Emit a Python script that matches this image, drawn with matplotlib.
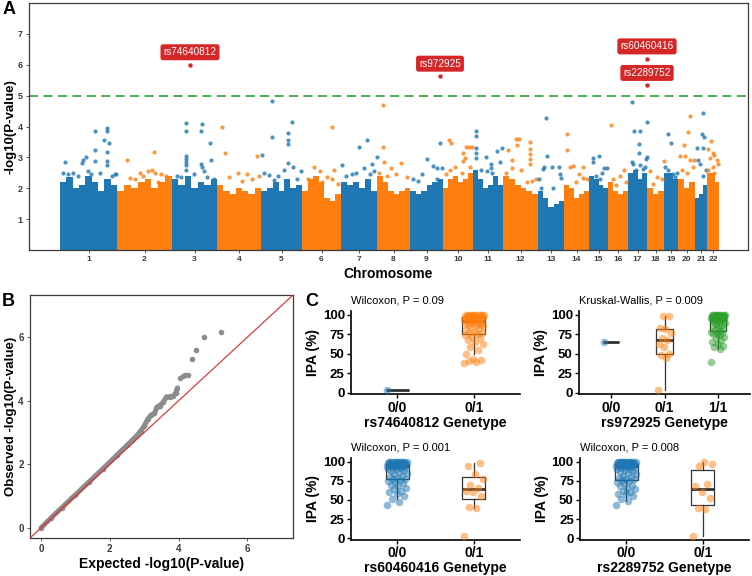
import numpy as np
import matplotlib
matplotlib.use("Agg")
import matplotlib.pyplot as plt

plt.rcParams['font.family'] = ['Liberation Sans', 'DejaVu Sans']

BLUE = '#1f77b4'
ORANGE = '#ff7f0e'
GREEN = '#2ca02c'
RED = '#d62728'
FRAME = '#3a3a3a'

# ---------------- panel A : manhattan ----------------
chrom_names = [str(i) for i in range(1, 23)]
# relative size of each chromosome on the x axis (number of SNPs, arbitrary units)
chrom_size = [57, 55, 45, 44, 41, 39, 36, 33, 33, 30, 30, 35, 26, 25, 19, 20, 19, 17, 14, 17, 12, 12]
# upper edge of the dense SNP cloud, read along each chromosome
band_top = [
    [2.2, 2.35, 2.0, 2.1, 2.4, 2.2, 1.9, 2.3, 2.1],
    [1.9, 2.1, 2.0, 2.2, 2.3, 2.0, 2.2, 2.4],
    [2.3, 2.1, 2.4, 2.0, 2.2, 2.1, 2.3],
    [2.1, 1.9, 1.8, 2.0, 1.9, 1.8, 2.0],
    [1.9, 2.0, 2.2, 1.9, 2.3, 2.0, 2.1],
    [1.9, 2.3, 2.4, 2.2, 1.7, 1.6, 1.8],
    [2.2, 2.1, 2.2, 2.0, 2.3, 1.9],
    [2.4, 2.2, 1.9, 1.8, 1.9, 2.0],
    [1.9, 1.8, 1.9, 2.1, 2.2, 2.3],
    [2.0, 2.3, 2.4, 2.2, 2.3, 2.5],
    [2.6, 2.3, 2.0, 2.1, 2.4, 2.1],
    [2.4, 2.3, 2.1, 2.0, 1.9, 1.8],
    [1.9, 1.7, 1.4, 1.5, 1.6],
    [2.1, 2.0, 1.7, 1.8, 1.9],
    [2.4, 2.3, 2.1, 2.0],
    [2.2, 1.9, 1.8, 1.9],
    [2.5, 2.6, 2.3, 2.5],
    [2.0, 1.8, 1.9],
    [2.5, 2.5, 2.3],
    [2.3, 2.0, 2.2],
    [1.7, 1.8, 2.1],
    [2.5, 2.5, 2.2],
]
# SNPs standing out above the cloud: position inside chromosome and -log10(p)
top_pos = [
    [5, 21.7, 23.3, 26, 35, 35, 35, 44, 47.3, 47.3, 49, 47.3, 47.3, 47.3, 56, 3, 8, 13, 18, 28, 31, 40, 52, 55],
    [9.7, 37, 13, 23, 26, 31, 35, 37.5, 41, 49, 52, 44, 18],
    [13.7, 13.7, 29.7, 28.7, 38, 13.7, 13.7, 13.7, 13.7, 13.7, 28.7, 29.7, 38.7, 22, 35, 5, 9, 32, 42],
    [4.7, 8, 39.7, 21, 30, 35, 12, 25, 42],
    [11.3, 11.3, 31.3, 27.3, 27.3, 27.3, 1.3, 27.3, 32, 40, 23, 8, 13, 17, 36, 3],
    [30.3, 12, 18, 32, 30, 6, 20, 36, 25],
    [1.3, 18, 25.7, 23, 30.7, 35.5, 11, 29, 5, 15, 33],
    [6.3, 5.7, 6.7, 24, 14, 29.7, 2, 10, 19],
    [17.3, 30, 23.3, 26.7, 12, 8, 31.7, 26.7, 3],
    [6, 7.7, 22.7, 26, 29.3, 22, 20.3, 20, 12, 7, 19, 27, 3],
    [2.7, 2.7, 2.7, 2.7, 2.7, 12.7, 23.7, 28.7, 27, 18, 18, 18.7, 8, 14],
    [4.7, 12.7, 16, 13.7, 27, 27, 27, 27, 27, 9.3, 9, 18, 23.7, 29, 3, 33],
    [7.7, 8.7, 5, 6, 13.7, 21, 22, 23, 3, 15, 1],
    [2.7, 3.3, 6, 9, 19.3, 15, 19, 12, 23],
    [4.3, 10, 3.7, 12.7, 15, 18, 11, 7],
    [2.7, 8, 15.7, 12, 5, 18],
    [4.3, 6, 12, 11, 11.3, 18.7, 18.7, 18, 3.7, 5.3, 12, 15, 8, 17],
    [3, 14.7, 6.3, 10, 16.5],
    [3.7, 7, 3.7, 9.3, 11, 1, 13],
    [12, 10.3, 6, 2, 7, 12, 14.7, 16.3, 4, 9],
    [8.3, 7.3, 9, 2.3, 8.3, 3.3, 5, 8.3, 11],
    [3.7, 1.3, 6.3, 7.3, 3, 9.7, 5.7, 7.3, 11, 1],
]
top_logp = [
    [2.85, 2.82, 2.93, 3.0, 3.86, 3.25, 2.87, 3.57, 3.95, 3.84, 3.46, 3.17, 2.88, 2.75, 2.45, 2.5, 2.45, 2.5, 2.4, 2.55, 2.45, 2.5, 2.4, 2.45],
    [2.93, 3.16, 2.33, 2.5, 2.4, 2.55, 2.6, 2.5, 2.2, 2.4, 2.25, 2.45, 2.3],
    [4.11, 3.84, 4.09, 3.86, 3.46, 3.05, 2.95, 2.85, 2.75, 2.6, 2.77, 2.68, 2.93, 2.47, 2.35, 2.4, 2.35, 2.55, 2.3],
    [4.0, 3.14, 3.05, 2.5, 2.45, 2.3, 2.35, 2.25, 2.4],
    [4.82, 3.65, 4.14, 3.8, 3.57, 3.43, 3.09, 2.82, 2.69, 2.55, 2.6, 2.42, 2.28, 2.4, 2.3, 2.5],
    [4.0, 2.69, 2.55, 2.6, 2.3, 2.3, 2.2, 2.15, 2.35],
    [2.76, 3.32, 3.56, 2.65, 2.8, 3.0, 2.45, 2.45, 2.4, 2.5, 2.55],
    [4.7, 3.33, 2.85, 2.83, 2.64, 2.37, 2.5, 2.4, 2.45],
    [2.95, 3.47, 2.73, 2.65, 2.45, 2.25, 2.64, 2.31, 2.3],
    [3.55, 3.47, 3.33, 3.33, 3.33, 2.99, 2.88, 3.13, 2.69, 2.6, 2.5, 2.7, 2.45],
    [3.87, 3.68, 3.3, 3.14, 2.98, 3.0, 3.2, 3.3, 2.85, 2.8, 2.67, 2.5, 2.6, 2.55],
    [3.25, 3.6, 3.58, 3.4, 3.5, 3.28, 3.1, 2.94, 2.78, 2.92, 2.65, 2.6, 2.2, 2.25, 2.5, 2.3],
    [4.27, 3.06, 2.62, 2.7, 2.7, 2.7, 2.45, 2.33, 2.0, 2.0, 2.3],
    [3.75, 3.23, 2.69, 2.73, 2.69, 2.47, 2.32, 2.2, 2.3],
    [2.99, 3.03, 2.85, 2.5, 2.65, 2.65, 2.3, 2.4],
    [4.06, 2.1, 2.6, 2.4, 2.3, 2.2],
    [4.79, 3.87, 3.84, 3.42, 3.13, 4.14, 3.0, 2.95, 2.85, 2.8, 2.75, 2.62, 2.6, 2.7],
    [2.55, 2.3, 2.15, 2.35, 2.87],
    [3.76, 3.46, 2.6, 2.45, 2.35, 2.7, 2.5],
    [4.35, 3.82, 3.41, 3.05, 3.05, 2.9, 2.7, 2.9, 2.6, 2.5],
    [4.43, 3.76, 3.66, 3.3, 3.3, 2.9, 2.8, 2.4, 2.6],
    [3.54, 3.27, 3.15, 3.08, 2.98, 2.9, 2.7, 2.5, 2.8, 2.6],
]
lead_snps = ['rs74640812', 'rs972925', 'rs60460416', 'rs2289752']
lead_chr = [3, 9, 17, 17]
lead_pos = [18, 30, 19, 19]
lead_logp = [6.0, 5.63, 6.19, 5.33]
threshold = 5

# ---------------- panel B : QQ ----------------
qq_expected = [0.0, 0.3, 0.6, 1.0, 1.4, 1.8, 2.2, 2.5, 2.65, 2.8, 2.9, 3.0, 3.1, 3.2, 3.3, 3.37,
               3.45, 3.55, 3.65, 3.75, 3.85, 3.92, 3.97, 4.03, 4.12, 4.2, 4.27, 4.38, 4.52, 4.75, 5.24]
qq_observed = [0.0, 0.32, 0.63, 1.04, 1.45, 1.86, 2.28, 2.6, 2.75, 2.92, 3.05, 3.2, 3.42, 3.55, 3.6, 3.8,
               3.85, 3.95, 4.12, 4.13, 4.15, 4.25, 4.4, 4.72, 4.78, 4.8, 4.82, 5.31, 5.61, 6.0, 6.17]

# ---------------- panel C : IPA by genotype ----------------
rs74640812_00 = [3]
rs74640812_01 = [38, 40, 41, 42, 43, 50, 55, 58, 62, 65, 68, 70, 72, 74, 75, 76, 77, 78, 80, 82,
                 84, 85, 86, 87, 88, 89, 90, 90, 91, 91, 92, 92, 93, 93, 94, 94, 95, 95, 95, 96,
                 96, 96, 97, 97, 97, 97, 98, 98, 98, 98, 99, 99, 99, 99, 100, 100, 100, 100, 100, 100]
rs972925_00 = [65]
rs972925_01 = [3, 45, 48, 50, 58, 63, 67, 70, 76, 82, 83, 98, 98]
rs972925_11 = [40, 56, 58, 60, 62, 65, 68, 70, 72, 74, 75, 76, 77, 78, 79, 80, 82, 84, 85, 86,
               88, 89, 90, 91, 92, 93, 94, 94, 95, 95, 95, 95, 96, 96, 96, 96, 96, 97, 97, 97,
               97, 97, 98, 98, 98, 98, 99, 99, 99, 99, 100, 100, 100, 100, 100, 100]
rs60460416_00 = [44, 47, 51, 55, 58, 60, 62, 64, 66, 68, 70, 72, 74, 75, 76, 77, 78, 79, 80, 82,
                 84, 85, 86, 88, 89, 90, 91, 92, 93, 94, 94, 95, 95, 95, 95, 95, 96, 96, 96, 96,
                 96, 96, 97, 97, 97, 97, 97, 98, 98, 98, 98, 99, 99, 99, 99, 100, 100, 100, 100, 100,
                 100, 100]
rs60460416_01 = [3, 39, 41, 55, 60, 62, 66, 70, 78, 84, 95, 98]
rs2289752_00 = [44, 49, 51, 55, 58, 58, 60, 62, 64, 66, 68, 70, 72, 74, 75, 76, 77, 78, 79, 80,
                82, 84, 85, 86, 88, 89, 90, 91, 92, 93, 94, 94, 95, 95, 95, 95, 96, 96, 96, 96,
                96, 96, 97, 97, 97, 97, 97, 98, 98, 98, 98, 99, 99, 99, 99, 100, 100, 100, 100, 100,
                100, 100, 100]
rs2289752_01 = [3, 38, 40, 52, 60, 68, 71, 95, 97, 100]

W, H = 752, 576


def px_axes(fig, left, top, right, bottom):
    return fig.add_axes([left / W, 1 - bottom / H, (right - left) / W, (bottom - top) / H])


def frame(ax):
    for s in ax.spines.values():
        s.set_color(FRAME)
        s.set_linewidth(0.9)
    ax.tick_params(colors=FRAME, length=2.5, width=0.6, pad=2)


def manhattan(fig):
    ax = px_axes(fig, 29, 3, 748, 250)
    starts = np.concatenate([[0], np.cumsum(chrom_size)[:-1]])
    mids = []
    for i in range(len(chrom_size)):
        c = BLUE if i % 2 == 0 else ORANGE
        edges = starts[i] + chrom_size[i] * np.arange(len(band_top[i]) + 1) / len(band_top[i])
        ax.stairs(band_top[i], edges, fill=True, color=c, baseline=0, lw=0)
        x = starts[i] + np.array(top_pos[i])
        ax.scatter(x, top_logp[i], s=9, color=c, alpha=0.8, lw=0, zorder=3)
        mids.append(starts[i] + chrom_size[i] / 2)
    ax.axhline(threshold, color='#3aab3a', lw=1.3, ls=(0, (5, 3)), zorder=2)
    for name, ch, pos, lp in zip(lead_snps, lead_chr, lead_pos, lead_logp):
        x = starts[ch - 1] + pos
        ax.scatter([x], [lp], s=10, color=RED, lw=0, zorder=4)
        ax.annotate(name, xy=(x, lp), xytext=(0, 9), textcoords='offset points',
                    ha='center', va='center', fontsize=7.2, color='white',
                    bbox=dict(boxstyle='round,pad=0.3,rounding_size=0.25', fc=RED, ec='none'))
    ax.set_xlim(-31, sum(chrom_size) + 29)
    ax.set_ylim(0, 8)
    ax.set_xticks(mids)
    ax.set_xticklabels(chrom_names, fontsize=6, fontweight='bold')
    ax.set_yticks(range(1, 8))
    ax.set_yticklabels([str(i) for i in range(1, 8)], fontsize=6.5, fontweight='bold')
    frame(ax)
    ax.set_xlabel('Chromosome', fontsize=10, fontweight='bold', labelpad=3)
    ax.set_ylabel('-log10(P-value)', fontsize=9.5, fontweight='bold', labelpad=1)


def qq(fig):
    ax = px_axes(fig, 30, 295, 293, 538)
    e = np.array(qq_expected)
    o = np.array(qq_observed)
    dense = e < 4.0
    ax.plot(e[dense], o[dense], color='#8c8c8c', lw=3.6, solid_capstyle='round', zorder=2)
    ax.scatter(e, o, s=16, color='#8c8c8c', lw=0, zorder=2)
    ax.axline((0, 0), slope=1, color='#e8262a', lw=0.8, zorder=3)
    ax.set_xlim(-0.32, 7.33)
    ax.set_ylim(-0.32, 7.33)
    ax.set_xticks([0, 2, 4, 6])
    ax.set_yticks([0, 2, 4, 6])
    for lab in ax.get_xticklabels() + ax.get_yticklabels():
        lab.set_fontsize(7)
        lab.set_fontweight('bold')
    frame(ax)
    ax.set_xlabel('Expected -log10(P-value)', fontsize=10, fontweight='bold', labelpad=2)
    ax.set_ylabel('Observed -log10(P-value)', fontsize=9.5, fontweight='bold', labelpad=1)


def geno_box(fig, box, groups, labels, colors, subtitle, xlabel):
    ax = px_axes(fig, *box)
    pos = np.arange(1, len(groups) + 1)
    ax.boxplot(groups, positions=pos, widths=0.3, showfliers=False, showcaps=False,
               patch_artist=True,
               boxprops=dict(facecolor='white', edgecolor='#333333', lw=0.9),
               medianprops=dict(color='#333333', lw=2.0),
               whiskerprops=dict(color='#333333', lw=0.9), zorder=2)
    for p, vals, c in zip(pos, groups, colors):
        n = len(vals)
        jit = ((np.arange(n) * 0.6180339887) % 1 - 0.5) * 0.26
        ax.scatter(p + jit, vals, s=30, color=c, alpha=0.5, lw=0, zorder=3)
    ax.set_xlim(0.4, len(groups) + 0.6)
    ax.set_ylim(-2, 105)
    ax.set_xticks(pos)
    ax.set_xticklabels(labels, fontsize=10, fontweight='bold')
    ax.set_yticks([0, 25, 50, 75, 100])
    ax.set_yticklabels(['0', '25', '50', '75', '100'], fontsize=9.5, fontweight='bold')
    for s in ['top', 'right']:
        ax.spines[s].set_visible(False)
    for s in ['left', 'bottom']:
        ax.spines[s].set_linewidth(1.2)
        ax.spines[s].set_color('black')
    ax.tick_params(length=3, width=1, pad=1.5)
    ax.set_title(subtitle, loc='left', fontsize=8, pad=5)
    ax.set_xlabel(xlabel, fontsize=10, fontweight='bold', labelpad=1)
    ax.set_ylabel('IPA (%)', fontsize=10, fontweight='bold', labelpad=2)


def main():
    fig = plt.figure(figsize=(7.52, 5.76), dpi=100)
    manhattan(fig)
    qq(fig)
    geno_box(fig, (351, 310.8, 520, 394.3), [rs74640812_00, rs74640812_01], ['0/0', '0/1'],
             [BLUE, ORANGE], 'Wilcoxon, P = 0.09', 'rs74640812 Genetype')
    geno_box(fig, (579, 310.8, 750, 394.3), [rs972925_00, rs972925_01, rs972925_11],
             ['0/0', '0/1', '1/1'], [BLUE, ORANGE, GREEN],
             'Kruskal-Wallis, P = 0.009', 'rs972925 Genetype')
    geno_box(fig, (351, 457.9, 520, 539.8), [rs60460416_00, rs60460416_01], ['0/0', '0/1'],
             [BLUE, ORANGE], 'Wilcoxon, P = 0.001', 'rs60460416 Genetype')
    geno_box(fig, (580, 457.9, 749, 539.8), [rs2289752_00, rs2289752_01], ['0/0', '0/1'],
             [BLUE, ORANGE], 'Wilcoxon, P = 0.008', 'rs2289752 Genetype')
    fig.text(3 / W, 1 - 9 / H, 'A', fontsize=13, fontweight='bold', va='center')
    fig.text(2 / W, 1 - 301 / H, 'B', fontsize=13, fontweight='bold', va='center')
    fig.text(305 / W, 1 - 301 / H, 'C', fontsize=13, fontweight='bold', va='center')
    fig.savefig('out.png', dpi=100)


if __name__ == "__main__":
    main()
